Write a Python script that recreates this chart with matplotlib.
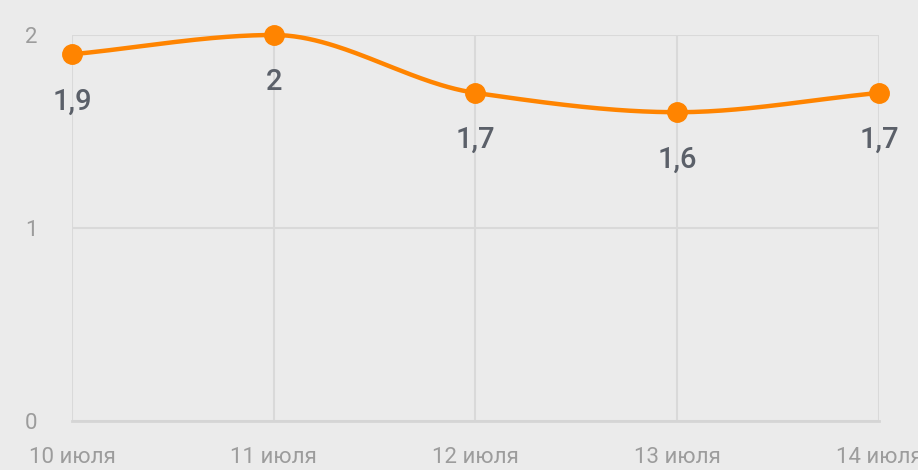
import numpy as np
import matplotlib.pyplot as plt

# %% data
dates = ['10 июля', '11 июля', '12 июля', '13 июля', '14 июля']
values = [1.9, 2.0, 1.7, 1.6, 1.7]
labels = ['1,9', '2', '1,7', '1,6', '1,7']
yticks = [0, 1, 2]

bg = '#ebebeb'
orange = '#ff8400'


def smooth(x, y, n=60):
    # monotone cubic (Fritsch-Carlson) so the curve never overshoots the points
    x = np.asarray(x, float)
    y = np.asarray(y, float)
    h = np.diff(x)
    d = np.diff(y) / h
    m = np.zeros_like(y)
    m[0], m[-1] = d[0], d[-1]
    for i in range(1, len(y) - 1):
        if d[i - 1] * d[i] > 0:
            m[i] = 2 / (1 / d[i - 1] + 1 / d[i])
    xs, ys = [], []
    for i in range(len(h)):
        t = np.linspace(0, 1, n)
        h00 = 2 * t**3 - 3 * t**2 + 1
        h10 = t**3 - 2 * t**2 + t
        h01 = -2 * t**3 + 3 * t**2
        h11 = t**3 - t**2
        xs.append(x[i] + t * h[i])
        ys.append(h00 * y[i] + h10 * h[i] * m[i] + h01 * y[i + 1] + h11 * h[i] * m[i + 1])
    return np.concatenate(xs), np.concatenate(ys)


plt.rcParams['font.family'] = ['Roboto', 'DejaVu Sans']

fig = plt.figure(figsize=(9.18, 4.70), dpi=100, facecolor=bg)
ax = fig.add_axes([72 / 918, 1 - 421 / 470, (879 - 72) / 918, (421 - 35) / 470])
ax.set_facecolor(bg)

x = np.arange(len(dates))
xs, ys = smooth(x, values)
ax.plot(xs, ys, color=orange, lw=3.2, clip_on=False, zorder=3, solid_capstyle='round')
ax.plot(x, values, 'o', color=orange, ms=14, clip_on=False, zorder=4)

for xi, v, lab in zip(x, values, labels):
    ax.annotate(lab, (xi, v), xytext=(0, -34), textcoords='offset points',
                ha='center', va='center', fontsize=21, fontweight='medium',
                color='#5b6069', annotation_clip=False, zorder=5)

ax.set_xlim(0, len(dates) - 1)
ax.set_ylim(0, 2)
ax.set_xticks(x)
ax.set_xticklabels(dates)
ax.set_yticks(yticks)
ax.grid(True, color='#d9d9d9', lw=1.5)
ax.set_axisbelow(True)
for s in ['top', 'right', 'left']:
    ax.spines[s].set_visible(False)
ax.spines['bottom'].set_color('#d5d5d5')
ax.spines['bottom'].set_linewidth(2)
ax.tick_params(length=0, labelsize=16, colors='#9c9c9c')
ax.tick_params(axis='x', pad=19)
ax.tick_params(axis='y', pad=25)

fig.savefig('out.png', dpi=100, facecolor=bg)
